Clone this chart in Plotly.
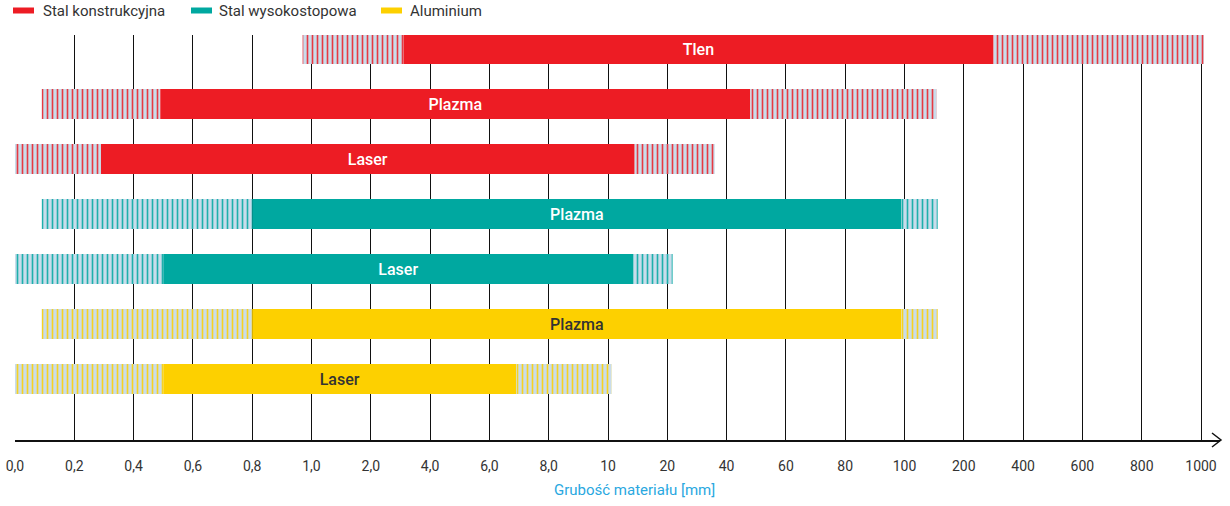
import numpy as np
import plotly.graph_objects as go

# ---- data ----
tick_values = [0.0, 0.2, 0.4, 0.6, 0.8, 1.0, 2.0, 4.0, 6.0, 8.0, 10, 20, 40, 60, 80, 100, 200, 400, 600, 800, 1000]
tick_labels = ["0,0", "0,2", "0,4", "0,6", "0,8", "1,0", "2,0", "4,0", "6,0", "8,0", "10", "20", "40", "60",
               "80", "100", "200", "400", "600", "800", "1000"]

processes = ["Tlen", "Plazma", "Laser", "Plazma", "Laser", "Plazma", "Laser"]
materials = ["Stal konstrukcyjna"] * 3 + ["Stal wysokostopowa"] * 2 + ["Aluminium"] * 2
range_min = [0.97, 0.09, 0.0, 0.09, 0.0, 0.09, 0.0]
optimal_min = [3.1, 0.49, 0.29, 0.8, 0.5, 0.8, 0.5]
optimal_max = [300, 48, 14.5, 99, 14.3, 99, 6.9]
range_max = [1010, 154, 36, 156, 21.8, 156, 10.6]

material_names = ["Stal konstrukcyjna", "Stal wysokostopowa", "Aluminium"]
material_colors = {"Stal konstrukcyjna": "#ed1c24", "Stal wysokostopowa": "#00a8a0", "Aluminium": "#fdd000"}
text_colors = {"Stal konstrukcyjna": "white", "Stal wysokostopowa": "white", "Aluminium": "#333333"}
HATCH_BG = "#c9dcea"


def scale(v):
    """Piecewise (irregular) axis scale: value in mm -> tick index position."""
    v = np.asarray(v, dtype=float)
    out = np.interp(v, tick_values, np.arange(len(tick_values)))
    over = v > tick_values[-1]
    out[over] = len(tick_values) - 1 + (v[over] - tick_values[-1]) / (tick_values[-1] - tick_values[-2])
    return out


rows = list(range(len(processes)))
a0, a1, a2, a3 = scale(range_min), scale(optimal_min), scale(optimal_max), scale(range_max)

fig = go.Figure()
FONT = "Roboto, Liberation Sans, sans-serif"
BAR_W = 0.545

for i in rows:
    col = material_colors[materials[i]]
    pattern = dict(shape="|", bgcolor=HATCH_BG, fgcolor=col, size=5, solidity=0.33, fgopacity=0.85, fillmode="replace")
    fig.add_trace(go.Bar(orientation="h", y=[i], base=[a0[i]], x=[a1[i] - a0[i]], width=BAR_W,
                         marker=dict(color=HATCH_BG, pattern=pattern, line=dict(width=0)),
                         showlegend=False, hoverinfo="skip"))
    fig.add_trace(go.Bar(orientation="h", y=[i], base=[a1[i]], x=[a2[i] - a1[i]], width=BAR_W,
                         marker=dict(color=col, line=dict(width=0)),
                         text=[processes[i]], textposition="inside", insidetextanchor="middle", textangle=0,
                         textfont=dict(color=text_colors[materials[i]], size=16, family=FONT, weight=500),
                         showlegend=False, hoverinfo="skip"))
    fig.add_trace(go.Bar(orientation="h", y=[i], base=[a2[i]], x=[a3[i] - a2[i]], width=BAR_W,
                         marker=dict(color=HATCH_BG, pattern=pattern, line=dict(width=0)),
                         showlegend=False, hoverinfo="skip"))

W, H = 1230, 506
L, R, T, B = 15, 10, 35, 66
plot_w = W - L - R
plot_h = H - T - B
unit_y = 55.0
top_off = 14.0 / unit_y


def px_x(p):
    """window pixel x -> paper coordinate"""
    return (p - L) / plot_w


def px_y(p):
    """window pixel y -> paper coordinate"""
    return 1.0 + (T - p) / plot_h


legend_swatch_x = [13, 191, 381]
legend_text_x = [41, 217, 408]
shapes = []
annotations = []
for m, sx, tx in zip(material_names, legend_swatch_x, legend_text_x):
    shapes.append(dict(type="rect", xref="paper", yref="paper", x0=px_x(sx), x1=px_x(sx + 21),
                       y0=px_y(13.5), y1=px_y(7.5), fillcolor=material_colors[m], line=dict(width=0)))
    annotations.append(dict(text=m, xref="paper", yref="paper", x=px_x(tx), y=px_y(11), xanchor="left",
                            yanchor="middle", showarrow=False, font=dict(size=15, color="#333333", family=FONT)))

shapes.append(dict(type="path", xref="paper", yref="paper",
                   path=f"M {px_x(1212)},{px_y(433)} L {px_x(1221)},{px_y(440)} L {px_x(1212)},{px_y(447)}",
                   line=dict(color="#111111", width=1.5)))
annotations.append(dict(text="Grubość materiału [mm]", xref="paper", yref="paper",
                        x=px_x(635), y=px_y(490), xanchor="center", yanchor="middle",
                        showarrow=False, font=dict(size=15, color="#29a8df", family=FONT)))

fig.update_layout(
    width=W, height=H,
    margin=dict(l=L, r=R, t=T, b=B, autoexpand=False),
    plot_bgcolor="white", paper_bgcolor="white",
    barmode="overlay",
    showlegend=False,
    font=dict(family=FONT, color="#333333", size=14),
    xaxis=dict(range=[0, plot_w / 59.3], tickmode="array", tickvals=list(range(len(tick_values))),
               ticktext=tick_labels, showgrid=True, gridcolor="#111111", gridwidth=1.2, zeroline=False,
               showline=True, linecolor="#111111", linewidth=1.5, ticks="", ticklabelstandoff=12,
               automargin=False, tickfont=dict(size=14, color="#333333")),
    yaxis=dict(range=[-top_off + plot_h / unit_y, -top_off], showgrid=False, zeroline=False,
               showticklabels=False, showline=False, ticks="", automargin=False),
    shapes=shapes,
    annotations=annotations,
)

fig.write_html("out.html", config={"displayModeBar": False},
               post_script="document.body.style.margin='0px';")
